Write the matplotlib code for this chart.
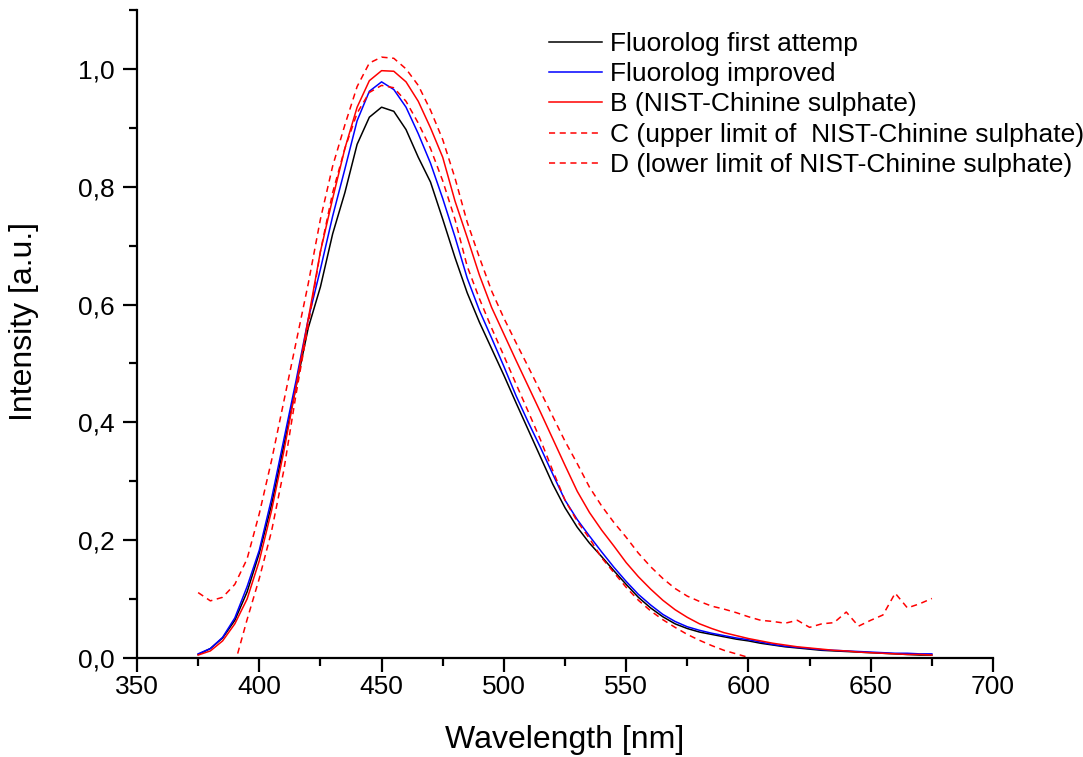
import numpy as np
import matplotlib
matplotlib.use('Agg')
import matplotlib.pyplot as plt
from matplotlib.ticker import MultipleLocator, FuncFormatter

plt.rcParams['font.family'] = ['Liberation Sans', 'DejaVu Sans']

# wavelength grid for the measured curves and the NIST reference (nm)
wl = list(range(375, 680, 5))

first_attempt = [0.006, 0.016, 0.034, 0.064, 0.112, 0.178, 0.26, 0.36, 0.46, 0.56,
                 0.63, 0.72, 0.79, 0.872, 0.918, 0.935, 0.928, 0.897, 0.85, 0.808,
                 0.745, 0.68, 0.62, 0.57, 0.525, 0.48, 0.433, 0.387, 0.341, 0.295,
                 0.255, 0.222, 0.195, 0.172, 0.148, 0.125, 0.103, 0.085, 0.07, 0.058,
                 0.05, 0.044, 0.04, 0.036, 0.032, 0.029, 0.025, 0.022, 0.019, 0.017,
                 0.015, 0.013, 0.012, 0.011, 0.01, 0.009, 0.008, 0.007, 0.006, 0.005,
                 0.005]

improved = [0.007, 0.016, 0.035, 0.068, 0.121, 0.183, 0.27, 0.37, 0.47, 0.575,
            0.66, 0.75, 0.83, 0.912, 0.962, 0.978, 0.965, 0.935, 0.89, 0.84,
            0.78, 0.715, 0.645, 0.59, 0.543, 0.495, 0.445, 0.4, 0.357, 0.312,
            0.268, 0.235, 0.207, 0.18, 0.154, 0.13, 0.108, 0.09, 0.074, 0.062,
            0.053, 0.047, 0.042, 0.038, 0.034, 0.031, 0.027, 0.023, 0.02, 0.018,
            0.016, 0.014, 0.013, 0.012, 0.011, 0.01, 0.009, 0.008, 0.008, 0.007,
            0.007]

nist_b = [0.005, 0.012, 0.029, 0.058, 0.1, 0.165, 0.25, 0.35, 0.46, 0.575,
          0.69, 0.78, 0.865, 0.935, 0.98, 0.997, 0.996, 0.978, 0.945, 0.9,
          0.85, 0.776, 0.714, 0.65, 0.595, 0.55, 0.505, 0.461, 0.417, 0.372,
          0.327, 0.283, 0.247, 0.217, 0.19, 0.162, 0.138, 0.117, 0.098, 0.082,
          0.069, 0.058, 0.05, 0.043, 0.038, 0.033, 0.029, 0.025, 0.022, 0.019,
          0.017, 0.015, 0.013, 0.012, 0.01, 0.009, 0.008, 0.007, 0.006, 0.006,
          0.005]

nist_c = [0.111, 0.097, 0.103, 0.125, 0.168, 0.245, 0.335, 0.435, 0.535, 0.635,
          0.745, 0.835, 0.905, 0.97, 1.01, 1.02, 1.018, 1.0, 0.972, 0.93,
          0.88, 0.815, 0.74, 0.68, 0.623, 0.577, 0.535, 0.494, 0.452, 0.41,
          0.368, 0.33, 0.29, 0.258, 0.23, 0.205, 0.178, 0.155, 0.135, 0.118,
          0.105, 0.096, 0.088, 0.083, 0.077, 0.07, 0.064, 0.062, 0.059, 0.064,
          0.052, 0.058, 0.06, 0.078, 0.054, 0.064, 0.073, 0.11, 0.085, 0.092,
          0.101]

# lower limit starts later and runs below zero after ~600 nm
wl_d = list(range(390, 610, 5))
nist_d = [-0.01, 0.065, 0.135, 0.215, 0.318, 0.447, 0.565, 0.69, 0.79, 0.865,
          0.925, 0.96, 0.972, 0.968, 0.945, 0.908, 0.865, 0.81, 0.745, 0.665,
          0.61, 0.56, 0.513, 0.465, 0.418, 0.37, 0.318, 0.268, 0.232, 0.203,
          0.17, 0.145, 0.12, 0.098, 0.08, 0.065, 0.052, 0.04, 0.03, 0.021,
          0.013, 0.007, 0.001, -0.004]

fig = plt.figure(figsize=(10.83, 7.57), dpi=100)
ax = fig.add_axes([0.1265, 0.1308, 0.7904, 0.856])

ax.plot(wl, first_attempt, color='black', lw=1.1, label='Fluorolog first attemp')
ax.plot(wl, improved, color='#0000ff', lw=1.1, label='Fluorolog improved')
ax.plot(wl, nist_b, color='#ff0000', lw=1.1, label='B (NIST-Chinine sulphate)')
ax.plot(wl, nist_c, color='#ff0000', lw=1.1, ls=(0, (4, 3)),
        label='C (upper limit of  NIST-Chinine sulphate)')
ax.plot(wl_d, nist_d, color='#ff0000', lw=1.1, ls=(0, (4, 3)),
        label='D (lower limit of NIST-Chinine sulphate)')

ax.set_xlim(350, 700)
ax.set_ylim(0, 1.1)
ax.xaxis.set_major_locator(MultipleLocator(50))
ax.xaxis.set_minor_locator(MultipleLocator(25))
ax.yaxis.set_major_locator(MultipleLocator(0.2))
ax.yaxis.set_minor_locator(MultipleLocator(0.1))
ax.yaxis.set_major_formatter(FuncFormatter(lambda v, p: ('%.1f' % v).replace('.', ',')))

ax.spines['right'].set_visible(False)
ax.spines['top'].set_visible(False)
for s in ('left', 'bottom'):
    ax.spines[s].set_linewidth(1.6)
ax.tick_params(which='major', direction='out', length=10, width=1.6, labelsize=19)
ax.tick_params(which='minor', direction='out', length=6, width=1.6)
ax.tick_params(axis='x', which='major', pad=2)
ax.tick_params(axis='y', which='major', pad=6)

ax.set_xlabel('Wavelength [nm]', fontsize=23, labelpad=19)
ax.set_ylabel('Intensity [a.u.]', fontsize=23)
ax.yaxis.set_label_coords(-0.115, 0.519)

ax.legend(loc='upper left', bbox_to_anchor=(0.507, 0.958),
          bbox_transform=fig.transFigure, frameon=False, fontsize=19,
          handlelength=2.0, handletextpad=0.32, labelspacing=0.24,
          borderpad=0, borderaxespad=0)

fig.savefig('out.png', dpi=100)
